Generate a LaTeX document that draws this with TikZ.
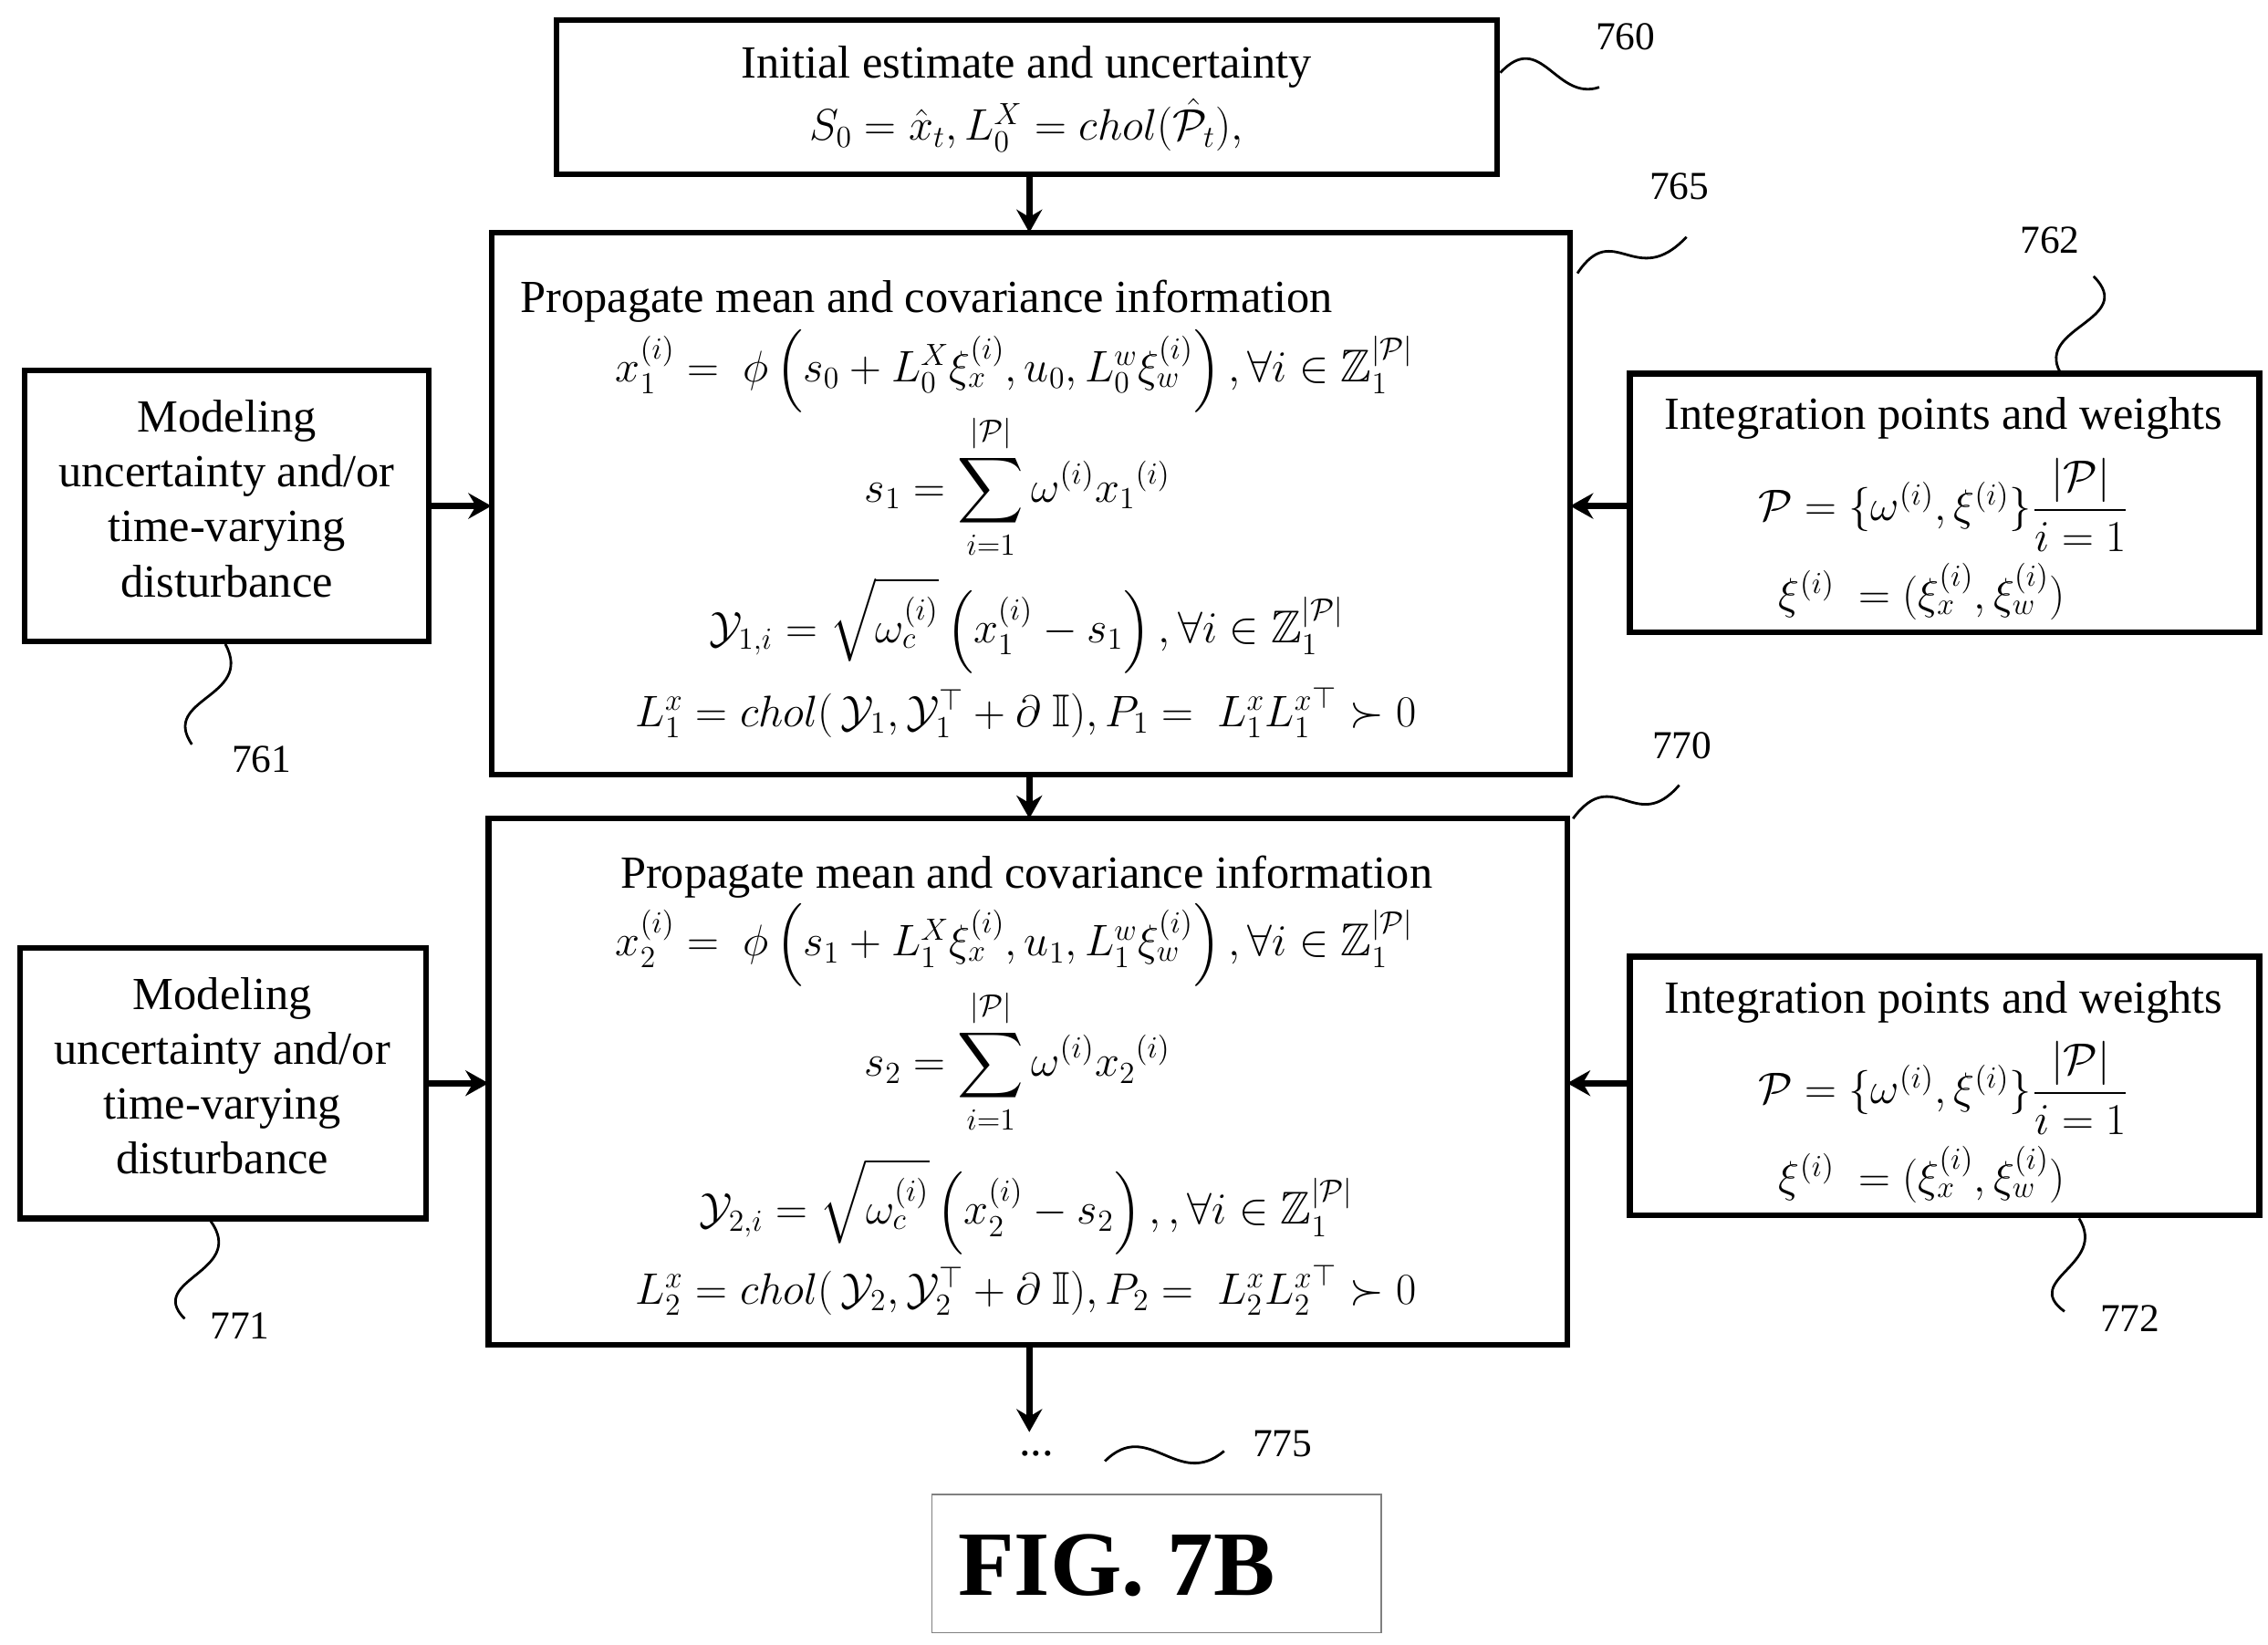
\documentclass[tikz,border=0pt]{standalone}
\usepackage{amsmath,amssymb}
\usepackage{fontspec}
\setmainfont{Liberation Serif}
\usetikzlibrary{arrows.meta}
\begin{document}
\begin{tikzpicture}[x=0.02cm,y=-0.02cm,
  box/.style={draw,line width=2.2pt},
  arr/.style={line width=2.4pt,-{Stealth[length=9pt,width=10pt]}},
  sq/.style={line width=1pt},
  t/.style={font=\fontsize{18}{21.5}\selectfont,inner sep=1pt},
  lab/.style={font=\fontsize{15.5}{18}\selectfont}]
\useasboundingbox (0,0) rectangle (1560,1131);
% boxes
\draw[box] (383,14) rectangle (1030,120);
\draw[box] (338,160) rectangle (1080,533);
\draw[box] (17,255) rectangle (295,441);
\draw[box] (1121,257) rectangle (1554,435);
\draw[box] (336,563) rectangle (1078,925);
\draw[box] (14,652) rectangle (293,838);
\draw[box] (1121,658) rectangle (1554,836);
\draw[gray,line width=0.6pt] (641,1028) rectangle (950,1123);
% names
\coordinate (top) at (708,120); \coordinate (m1t) at (708,160);
\coordinate (m1b) at (708,533); \coordinate (m2t) at (708,563);
\coordinate (m2b) at (708,925); \coordinate (dots) at (708,985);
\coordinate (l1) at (295,348); \coordinate (m1l) at (338,348);
\coordinate (r1) at (1121,348); \coordinate (m1r) at (1080,348);
\coordinate (l2) at (293,745); \coordinate (m2l) at (336,745);
\coordinate (r2) at (1121,745); \coordinate (m2r) at (1078,745);
\draw[arr] (top)--(m1t); \draw[arr] (m1b)--(m2t); \draw[arr] (m2b)--(dots);
\draw[arr] (l1)--(m1l); \draw[arr] (r1)--(m1r);
\draw[arr] (l2)--(m2l); \draw[arr] (r2)--(m2r);
% top text
\node[t] at (706,46) {Initial estimate and uncertainty};
\node[t] at (706,86) {$S_0=\hat{x}_t, L_0^X=chol(\hat{\mathcal{P}}_t),$};
% box 765
\node[t,anchor=west] at (356,207) {Propagate mean and covariance information};
\node[t] at (698,255) {$x_1^{(i)}=\ \phi\left(s_0+L_0^X\xi_x^{(i)},u_0,L_0^w\xi_w^{(i)}\right),\forall i\in\mathbb{Z}_1^{|\mathcal{P}|}$};
\node[t] at (700,335) {$s_1=\displaystyle\sum_{i=1}^{|\mathcal{P}|}\omega^{(i)}{x_1}^{(i)}$};
\node[t] at (706,430) {$\mathcal{Y}_{1,i}=\sqrt{\omega_c^{(i)}}\left(x_1^{(i)}-s_1\right),\forall i\in\mathbb{Z}_1^{|\mathcal{P}|}$};
\node[t] at (706,490) {$L_1^x=chol(\,\mathcal{Y}_1,\mathcal{Y}_1^{\top}+\partial\ \mathbb{I}),P_1=\ L_1^x{L_1^x}^{\top}\succ 0$};
% box 770
\node[t] at (706,603) {Propagate mean and covariance information};
\node[t] at (698,650) {$x_2^{(i)}=\ \phi\left(s_1+L_1^X\xi_x^{(i)},u_1,L_1^w\xi_w^{(i)}\right),\forall i\in\mathbb{Z}_1^{|\mathcal{P}|}$};
\node[t] at (700,730) {$s_2=\displaystyle\sum_{i=1}^{|\mathcal{P}|}\omega^{(i)}{x_2}^{(i)}$};
\node[t] at (706,830) {$\mathcal{Y}_{2,i}=\sqrt{\omega_c^{(i)}}\left(x_2^{(i)}-s_2\right),,\forall i\in\mathbb{Z}_1^{|\mathcal{P}|}$};
\node[t] at (706,887) {$L_2^x=chol(\,\mathcal{Y}_2,\mathcal{Y}_2^{\top}+\partial\ \mathbb{I}),P_2=\ L_2^x{L_2^x}^{\top}\succ 0$};
% left boxes
\node[t,align=center] at (156,343) {Modeling\\uncertainty and/or\\time-varying\\disturbance};
\node[t,align=center] at (153,740) {Modeling\\uncertainty and/or\\time-varying\\disturbance};
% right boxes
\foreach \y in {0,401}{
\node[t] at (1337,288+\y) {Integration points and weights};
\node[t] at (1337,347+\y) {$\mathcal{P}=\{\omega^{(i)},\xi^{(i)}\}\dfrac{|\mathcal{P}|}{i=1}$};
\node[t] at (1322,407+\y) {$\xi^{(i)}\ =(\xi_x^{(i)},\xi_w^{(i)})$};
}
% labels
\node[lab] at (1118,25) {760};
\draw[sq] (1032,50) .. controls (1060,20) and (1070,70) .. (1100,60);
\node[lab] at (1155,128) {765};
\draw[sq] (1085,188) .. controls (1110,150) and (1125,200) .. (1160,163);
\node[lab] at (1410,165) {762};
\draw[sq] (1440,190) .. controls (1470,220) and (1400,225) .. (1417,256);
\node[lab] at (180,522) {761};
\draw[sq] (155,443) .. controls (175,480) and (110,480) .. (132,512);
\node[lab] at (1157,513) {770};
\draw[sq] (1082,563) .. controls (1110,525) and (1125,575) .. (1155,540);
\node[lab] at (165,912) {771};
\draw[sq] (145,840) .. controls (170,875) and (100,880) .. (127,907);
\node[lab] at (1465,907) {772};
\draw[sq] (1430,838) .. controls (1450,870) and (1390,880) .. (1420,902);
\node[lab] at (882,993) {775};
\draw[sq] (760,1005) .. controls (790,975) and (810,1025) .. (842,998);
\node[t] at (713,1000) {...};
\node[font=\fontsize{36}{42}\selectfont\bfseries] at (768,1077) {FIG. 7B};
\end{tikzpicture}
\end{document}
